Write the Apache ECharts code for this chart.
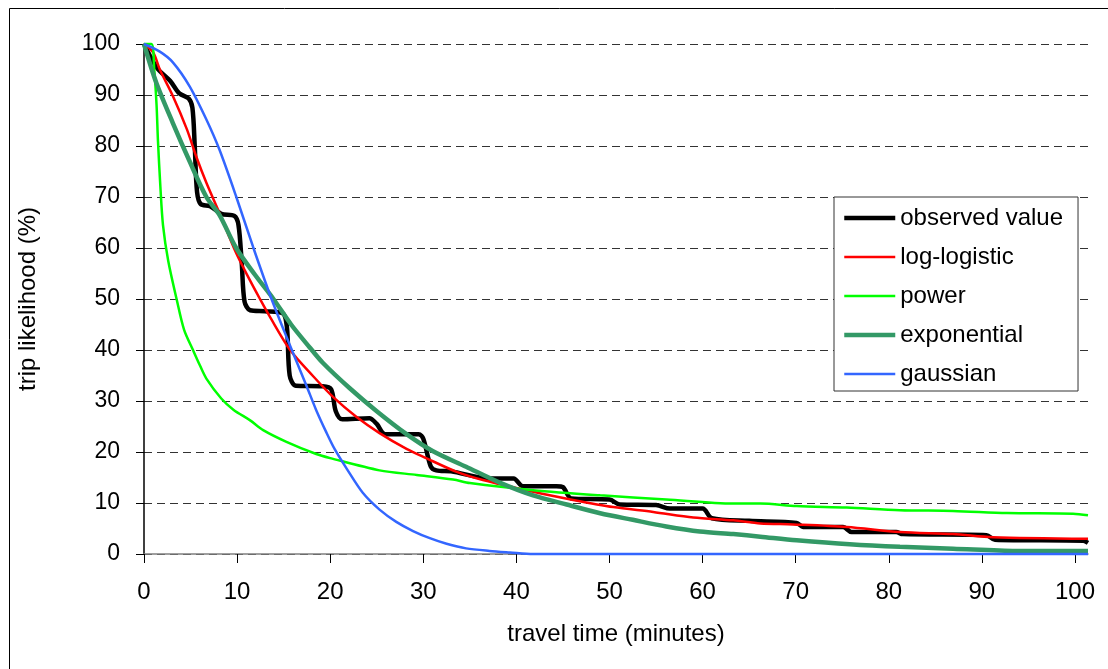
<!DOCTYPE html>
<html>
<head>
<meta charset="utf-8">
<script src="https://cdn.jsdelivr.net/npm/echarts@6/dist/echarts.min.js"></script>
<style>
  html, body { margin: 0; padding: 0; background: #fff; }
  #chart { width: 1108px; height: 669px; }
</style>
</head>
<body>
<div id="chart"></div>
<script>
// travel time (min), trip likelihood (%)
const observed = [
  [0,100],[1.4,95.3],[2.8,92.8],[3.8,90.3],[4.8,89.3],[5.2,87.5],[5.45,80],[5.7,71],[6.1,68.6],
  [7.1,68.2],[8.3,66.7],[9.7,66.3],[10.15,64.5],[10.5,57],[10.8,49.5],[11.4,47.8],[13,47.6],
  [14.9,47.2],[15.35,44.5],[15.65,35],[16.3,33],[19.2,32.9],[20.1,32.3],[20.6,28],[21.3,26.4],
  [24.2,26.6],[25,25.5],[25.9,23.5],[29.5,23.5],[30,22.6],[30.8,17.2],[31.4,16.4],[33,16.2],
  [37.1,14.8],[39.7,14.8],[40.7,13.3],[44.3,13.3],[45,13.1],[45.9,10.9],[50,10.7],[51.1,9.7],
  [55,9.6],[56.5,8.9],[60,8.9],[61,7.0],[65,6.5],[70.1,6.1],[70.8,5.3],[75.1,5.3],[76,4.3],
  [80.8,4.3],[81.5,3.9],[90.5,3.7],[91.4,2.8],[100.9,2.6],[101.4,2.2]
];
const logLogistic = [
  [0,100],[1,98.3],[1.7,95],[3.1,89.8],[4.6,83.3],[5.6,78],[6.7,72.8],[8.1,66.9],[9.9,59],
  [11.4,53.6],[12.4,50.2],[13.5,46.6],[15.7,40],[18.2,34.8],[20.3,30.8],[22.8,26.9],[25.3,23.7],
  [28.2,20.6],[30.3,18.8],[33.6,16.1],[36.4,14.5],[41.8,12.2],[46.1,10.6],[50.4,9.2],[54.7,8.25],
  [59,7.15],[63.3,6.6],[66.2,6.0],[69.7,5.8],[75.5,5.3],[81.2,4.3],[86.9,3.9],[91.2,3.3],[101.4,3.0]
];
const power = [
  [0,100],[0.8,100],[1.1,95],[1.35,88],[1.5,81],[1.76,72],[2.04,64.5],[2.6,57.5],[3.5,50],
  [4.3,44],[5.26,40],[6,37],[6.7,34.4],[8.3,30.5],[9.6,28.3],[11.4,26.2],[12.8,24.3],[15.3,22.0],
  [18.5,19.6],[20,18.8],[25.3,16.4],[29.3,15.5],[33.2,14.6],[35,13.9],[41.8,12.5],[49,11.5],
  [56.1,10.7],[63.3,9.9],[66.2,9.9],[70.1,9.4],[75.5,9.1],[81.2,8.6],[86.9,8.45],[92.7,8.05],
  [99.8,7.9],[101.4,7.6]
];
const exponential = [
  [0,100],[1.3,92.5],[3.1,84.5],[4.9,77],[6.7,70],[8.1,66.5],[9.9,60],[11.9,54.8],[13.9,50],
  [15.8,45],[17.8,40.5],[19.2,37.5],[22.1,32.5],[25,28],[28.2,23.5],[31,20.2],[34.6,17.1],
  [38.2,14],[41.8,11.5],[45.4,9.7],[49,8],[52.5,6.7],[56.1,5.4],[59.7,4.4],[63.3,3.9],[66.2,3.4],
  [70.1,2.7],[75.8,1.9],[81.2,1.4],[86.9,1.05],[93.7,0.6],[101.4,0.6]
];
const gaussian = [
  [0,100],[1.7,98.5],[3.1,96.4],[4.9,91.7],[6.7,85.2],[8.1,79.3],[9.9,70.1],[11.7,60.3],[13.7,50],
  [15.3,42.6],[17.45,33],[18.5,28.2],[19.6,23.8],[20.5,20.5],[21.75,16.8],[23.5,12],[25.3,8.7],
  [27.1,6.3],[28.9,4.5],[30.7,3.1],[32.5,2.0],[34.6,1.1],[37.1,0.6],[39.3,0.3],[41.8,0],[101.4,0]
];
const xTicks = [0,10,20,30,40,50,60,70,80,90,100];

const font = 'Liberation Sans, Arial, sans-serif';
const chart = echarts.init(document.getElementById('chart'), null, { renderer: 'canvas' });

const styles = {
  'observed value': ['#000000', 4.5],
  'log-logistic': ['#ff0000', 2.5],
  'power': ['#00ff00', 2.5],
  'exponential': ['#339966', 4.5],
  'gaussian': ['#3366ff', 2.5]
};

function line(name, data) {
  const [color, width] = styles[name];
  return {
    name, type: 'line', data, symbol: 'none', smooth: 0.3, clip: false,
    lineStyle: { color, width }, itemStyle: { color },
    emphasis: { disabled: true }
  };
}

chart.setOption({
  animation: false,
  textStyle: { fontFamily: font },
  grid: { left: 144, right: 20, top: 44, bottom: 115 },
  graphic: [{
    type: 'rect', shape: { x: 9.5, y: 8.5, width: 1300, height: 900 },
    style: { fill: 'none', stroke: '#000', lineWidth: 1 }, silent: true
  }],
  legend: {
    orient: 'vertical', left: 834, top: 197,
    padding: [9, 15, 5, 8], itemGap: 15, itemWidth: 51, itemHeight: 14,
    borderColor: '#333', borderWidth: 1, backgroundColor: '#fff',
    itemStyle: { opacity: 0, borderWidth: 0 },
    textStyle: { fontSize: 24, color: '#000', fontFamily: font, lineHeight: 24 },
    data: Object.keys(styles).map(n => ({
      name: n, lineStyle: { color: styles[n][0], width: styles[n][1] }
    }))
  },
  xAxis: {
    type: 'value', min: 0, max: 101.4,
    name: 'travel time (minutes)', nameLocation: 'middle', nameGap: 68,
    nameTextStyle: { fontSize: 24, color: '#000', fontFamily: font },
    axisLine: { lineStyle: { color: '#808080', width: 1.5 } },
    axisTick: { customValues: xTicks, length: 9, lineStyle: { color: '#000' } },
    axisLabel: { customValues: xTicks, fontSize: 24, color: '#000', margin: 26, fontFamily: font },
    splitLine: { show: false }
  },
  yAxis: {
    type: 'value', min: 0, max: 100, interval: 10,
    name: 'trip likelihood (%)', nameLocation: 'middle', nameGap: 104,
    nameTextStyle: { fontSize: 24, color: '#000', fontFamily: font },
    axisLine: { show: true, lineStyle: { color: '#000', width: 1.5 } },
    axisTick: { show: true, length: 8, lineStyle: { color: '#000' } },
    axisLabel: { fontSize: 23, color: '#000', margin: 24, fontFamily: font },
    splitLine: { show: true, lineStyle: { color: '#333', width: 1, type: [8, 5] } }
  },
  series: [
    line('observed value', observed),
    line('log-logistic', logLogistic),
    line('power', power),
    line('exponential', exponential),
    line('gaussian', gaussian)
  ]
});
</script>
</body>
</html>
